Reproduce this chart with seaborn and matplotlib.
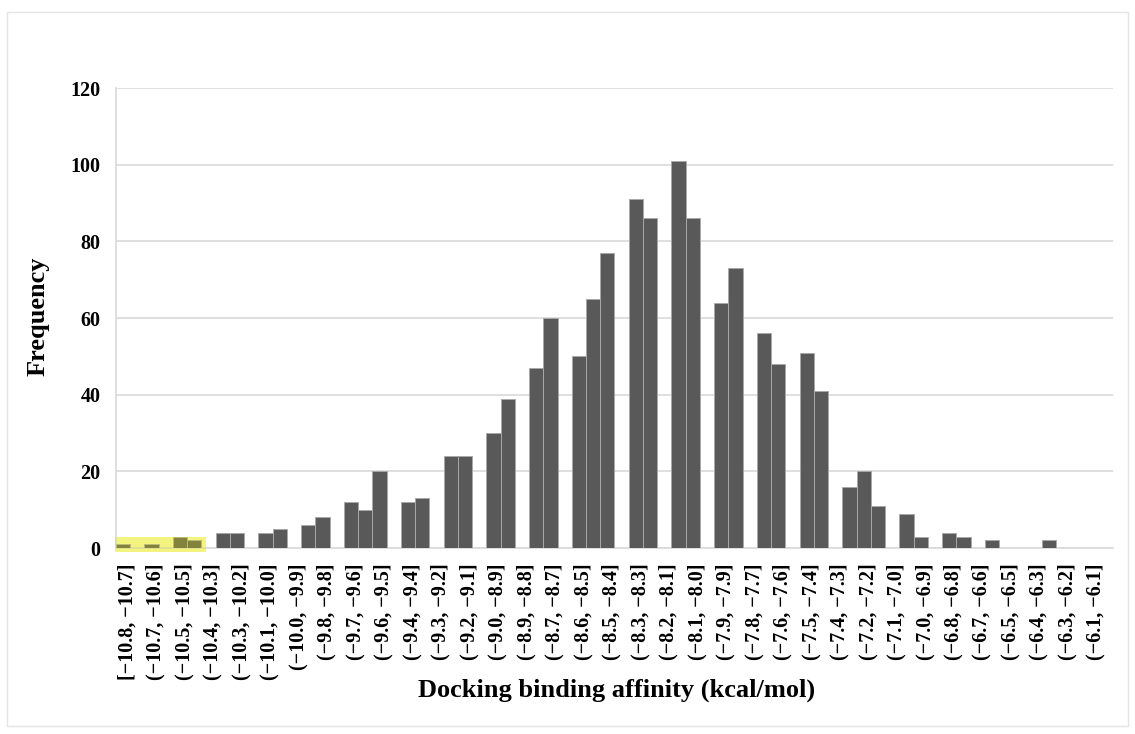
import matplotlib
matplotlib.use("Agg")
import matplotlib.pyplot as plt
import matplotlib.patches as mpatches
import seaborn as sns
import pandas as pd

# ---- data ----
bin_labels = [
    "[−10.8, −10.7]", "(−10.7, −10.6]", "(−10.5, −10.5]", "(−10.4, −10.3]",
    "(−10.3, −10.2]", "(−10.1, −10.0]", "(−10.0, −9.9]", "(−9.8, −9.8]",
    "(−9.7, −9.6]", "(−9.6, −9.5]", "(−9.4, −9.4]", "(−9.3, −9.2]",
    "(−9.2, −9.1]", "(−9.0, −8.9]", "(−8.9, −8.8]", "(−8.7, −8.7]",
    "(−8.6, −8.5]", "(−8.5, −8.4]", "(−8.3, −8.3]", "(−8.2, −8.1]",
    "(−8.1, −8.0]", "(−7.9, −7.9]", "(−7.8, −7.7]", "(−7.6, −7.6]",
    "(−7.5, −7.4]", "(−7.4, −7.3]", "(−7.2, −7.2]", "(−7.1, −7.0]",
    "(−7.0, −6.9]", "(−6.8, −6.8]", "(−6.7, −6.6]", "(−6.5, −6.5]",
    "(−6.4, −6.3]", "(−6.3, −6.2]", "(−6.1, −6.1]",
]

# frequency in each of the 70 narrow slots (two slots per label)
slot_counts = [
    1, 0, 1, 0, 3, 2, 0, 4, 4, 0,
    4, 5, 0, 6, 8, 0, 12, 10, 20, 0,
    12, 13, 0, 24, 24, 0, 30, 39, 0, 47,
    60, 0, 50, 65, 77, 0, 91, 86, 0, 101,
    86, 0, 64, 73, 0, 56, 48, 0, 51, 41,
    0, 16, 20, 11, 0, 9, 3, 0, 4, 3,
    0, 2, 0, 0, 0, 2, 0, 0, 0, 0,
]
y_ticks = [0, 20, 40, 60, 80, 100, 120]

df = pd.DataFrame({"slot": list(range(len(slot_counts))), "count": slot_counts})

# ---- style ----
sns.set_theme(style="white")
plt.rcParams["font.family"] = ["Liberation Serif", "DejaVu Serif"]
plt.rcParams["font.weight"] = "bold"
plt.rcParams["text.color"] = "black"
plt.rcParams["xtick.color"] = "black"
plt.rcParams["ytick.color"] = "black"

fig = plt.figure(figsize=(11.35, 7.34), dpi=100)
ax = fig.add_axes([116 / 1135, 1 - 548 / 734, (1113 - 116) / 1135, (548 - 88) / 734])

sns.barplot(data=df, x="slot", y="count", color="#595959", saturation=1,
            width=1.0, edgecolor="#a8a8a8", linewidth=0.7, ax=ax, zorder=3)

ax.set_xlim(-0.5, len(slot_counts) - 0.5)
ax.set_ylim(0, 120)
ax.set_yticks(y_ticks)
ax.set_yticklabels([str(v) for v in y_ticks], fontsize=14.5, fontweight="bold",
                   color="black")
ax.yaxis.grid(True, color="#d9d9d9", linewidth=1.2, zorder=0)
ax.set_axisbelow(True)

ax.set_xticks([2 * k + 0.3 for k in range(len(bin_labels))])
ax.set_xticklabels(bin_labels, rotation=90, fontsize=14.5, fontweight="bold",
                   va="top", ha="center", color="black")
ax.tick_params(axis="x", length=0, pad=11)
ax.tick_params(axis="y", length=0, pad=11)

for s in ["top", "right"]:
    ax.spines[s].set_visible(False)
ax.spines["left"].set_color("#d9d9d9")
ax.spines["bottom"].set_color("#d9d9d9")
ax.spines["left"].set_linewidth(1.2)
ax.spines["bottom"].set_linewidth(1.2)

ax.set_xlabel("")
ax.set_ylabel("")
fig.text(38 / 1135, 1 - 316 / 734, "Frequency", rotation=90, ha="center",
         va="center", fontsize=19, fontweight="bold", color="black")
fig.text(617 / 1135, 1 - 690 / 734, "Docking binding affinity (kcal/mol)",
         ha="center", va="center", fontsize=19, fontweight="bold", color="black")

# yellow highlight around the lowest-affinity bins
x0, x1 = -0.6, 5.8
y0, y1 = -1.0, 2.9
under = mpatches.Rectangle((x0, y0), x1 - x0, y1 - y0, facecolor="#fafab8",
                           edgecolor="none", zorder=1, clip_on=False)
over = mpatches.Rectangle((x0, y0), x1 - x0, y1 - y0, facecolor="#e6e600",
                          alpha=0.3, edgecolor="none", zorder=5, clip_on=False)
ax.add_patch(under)
ax.add_patch(over)

# faint outer chart frame
frame = mpatches.Rectangle((7 / 1135, 8 / 734), 1121 / 1135, 714 / 734,
                           transform=fig.transFigure, fill=False,
                           edgecolor="#e4e4e4", linewidth=1.0)
fig.patches.append(frame)

fig.savefig("out.png", dpi=100, facecolor="white")
